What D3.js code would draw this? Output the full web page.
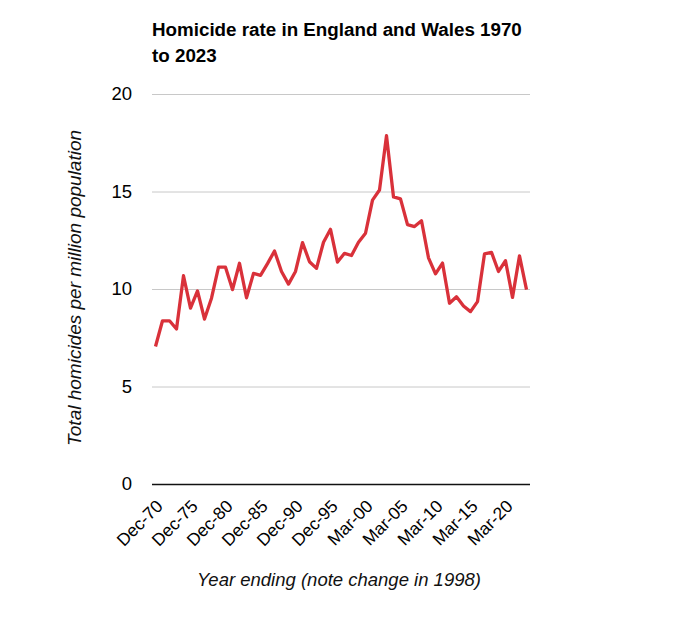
<!DOCTYPE html>
<html>
<head>
<meta charset="utf-8">
<script src="https://cdn.jsdelivr.net/npm/d3@7"></script>
<style>
  body { margin: 0; background: #fff; }
  svg { font-family: "Liberation Sans", Arial, Helvetica, sans-serif; }
</style>
</head>
<body>
<div class="chartBox"></div>
<script>
// year ending Dec for calendar years up to 1997, then year ending March
var calendarYears = d3.range(1970, 1998).map(y => 'Dec-' + String(y).slice(2));
var financialYears = d3.range(1998, 2024).map(y => 'Mar-' + String(y).slice(2));
var categories = calendarYears.concat(financialYears);

var rates = [
    7.05, 8.37, 8.37, 7.95, 10.68, 9.02, 9.9, 8.46, 9.53, 11.12,
    11.12, 9.97, 11.32, 9.55, 10.8, 10.7, 11.3, 11.95, 10.9, 10.25,
    10.9, 12.38, 11.4, 11.06, 12.4, 13.06, 11.38, 11.83, 11.72, 12.4,
    12.86, 14.56, 15.08, 17.86, 14.72, 14.62, 13.3, 13.2, 13.5, 11.6,
    10.78, 11.33, 9.27, 9.6, 9.13, 8.84, 9.35, 11.8, 11.88, 10.9,
    11.45, 9.57, 11.7, 9.97
];

var yTicks = [0, 5, 10, 15, 20];
var xTickLabels = ['Dec-70', 'Dec-75', 'Dec-80', 'Dec-85', 'Dec-90', 'Dec-95',
    'Mar-00', 'Mar-05', 'Mar-10', 'Mar-15', 'Mar-20'];

var titleLines = ['Homicide rate in England and Wales 1970', 'to 2023'];

function drawChart() {
    var width = 680, height = 632;
    var left = 152, right = 530, top = 94, bottom = 484;

    var svg = d3.select('.chartBox')
        .append('svg')
        .attr('width', width)
        .attr('height', height);

    var x = d3.scaleBand()
        .domain(categories)
        .range([left, right]);

    var y = d3.scaleLinear()
        .domain([0, 20])
        .range([bottom, top]);

    // title
    svg.append('text')
        .attr('x', left)
        .attr('y', 36)
        .style('font-size', '18.8px')
        .style('font-weight', 'bold')
        .attr('fill', '#000')
        .selectAll('tspan')
        .data(titleLines)
        .enter().append('tspan')
        .attr('x', left)
        .attr('dy', (d, i) => i === 0 ? 0 : 26)
        .text(d => d);

    // gridlines + y labels
    var yAxis = d3.axisLeft(y)
        .tickValues(yTicks)
        .tickSize(-(right - left))
        .tickPadding(20)
        .tickFormat(d3.format('d'));

    var yg = svg.append('g')
        .attr('transform', 'translate(' + left + ',0)')
        .call(yAxis);
    yg.select('.domain').remove();
    yg.selectAll('.tick line')
        .attr('stroke', d => d === 0 ? '#111' : '#c8c8c8')
        .attr('stroke-width', d => d === 0 ? 1.3 : 1);
    yg.selectAll('.tick text')
        .style('font-size', '18.5px')
        .style('font-family', '"Liberation Sans", Arial, sans-serif')
        .attr('fill', '#000');

    // x labels
    svg.append('g')
        .selectAll('text')
        .data(xTickLabels)
        .enter().append('text')
        .attr('transform', d => 'translate(' + (x(d) + x.bandwidth() / 2 + 4) + ',' + (bottom + 19) + ') rotate(-45)')
        .attr('text-anchor', 'end')
        .attr('dy', '0.35em')
        .style('font-size', '17.5px')
        .attr('fill', '#000')
        .text(d => d);

    // the series
    var line = d3.line()
        .x((d, i) => x(categories[i]) + x.bandwidth() / 2)
        .y(d => y(d));

    svg.append('path')
        .datum(rates)
        .attr('d', line)
        .attr('fill', 'none')
        .attr('stroke', '#d9313a')
        .attr('stroke-width', 3.3)
        .attr('stroke-linejoin', 'round');

    // axis titles
    svg.append('text')
        .attr('x', 339)
        .attr('y', 586)
        .attr('text-anchor', 'middle')
        .style('font-size', '18.5px')
        .style('font-style', 'italic')
        .attr('fill', '#111')
        .text('Year ending (note change in 1998)');

    svg.append('text')
        .attr('transform', 'translate(81,288) rotate(-90)')
        .attr('text-anchor', 'middle')
        .style('font-size', '19px')
        .style('font-style', 'italic')
        .attr('fill', '#111')
        .text('Total homicides per million population');
}

drawChart();
</script>
</body>
</html>
